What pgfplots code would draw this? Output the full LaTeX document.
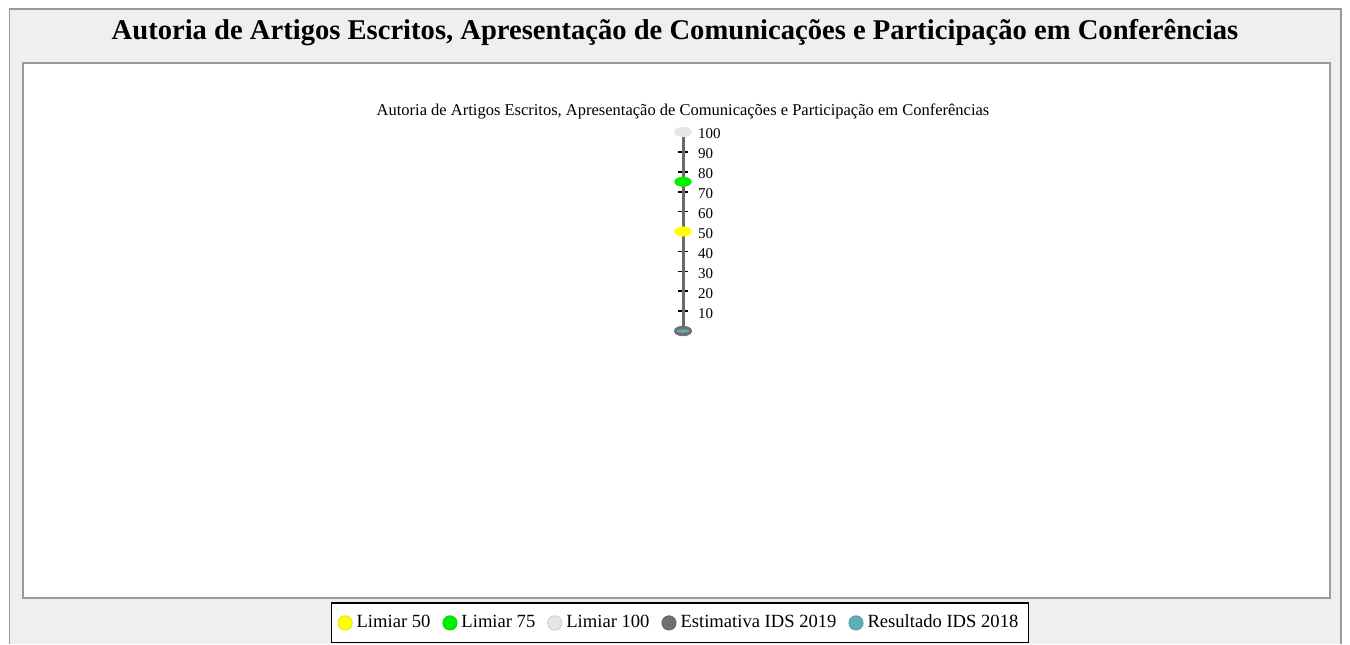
\documentclass[border=0pt]{standalone}
\usepackage{fontspec}
\setmainfont{Liberation Serif}
\usepackage{pgfplots}
\pgfplotsset{compat=1.18}
\definecolor{bgpanel}{HTML}{EFEFEF}
\definecolor{framegray}{HTML}{9A9A9A}
\definecolor{axisgray}{HTML}{6A6A6A}
\definecolor{lim50}{HTML}{FFFF00}
\definecolor{lim75}{HTML}{00EE00}
\definecolor{lim100}{HTML}{E6E6E6}
\definecolor{est19}{HTML}{707070}
\definecolor{res18}{HTML}{5BAFB5}
\pgfplotsset{lg/.style={legend image code/.code={\filldraw[fill=#1,draw=#1!85!black,line width=0.3pt] (0pt,0pt) circle (3.6pt);}}}
\begin{document}
\begin{tikzpicture}
\begin{scope}[x=0.5pt,y=0.5pt]
  \useasboundingbox (0,0) rectangle (1350,644);
  \fill[white] (0,0) rectangle (1350,644);
  \fill[bgpanel] (9.5,0) rectangle (1341,635);
  \draw[framegray, line width=0.6pt] (9.5,0) -- (9.5,635) -- (1341,635) -- (1341,0);
  \filldraw[fill=white, draw=framegray, line width=0.6pt] (23,46) rectangle (1330,581);
  \node[font=\bfseries\fontsize{14.3}{16}\selectfont] at (675,611) {Autoria de Artigos Escritos, Apresentação de Comunicações e Participação em Conferências};
\end{scope}
\begin{axis}[
  scale only axis, width=10pt, height=99.5pt,
  at={(341.5pt,156.5pt)}, anchor=south east,
  xmin=-1, xmax=0, ymin=0, ymax=100,
  axis x line=none, axis y line=right,
  axis line style={-, draw=axisgray, line width=1.5pt},
  ytick={10,20,...,100},
  tick align=center, major tick length=5pt,
  tick style={black, line width=0.8pt},
  yticklabel style={font=\fontsize{7.5}{8}\selectfont, xshift=1.5pt, yshift=-1pt},
  /pgf/number format/assume math mode=true,
  title={Autoria de Artigos Escritos, Apresentação de Comunicações e Participação em Conferências},
  title style={at={(1,1)}, anchor=center, yshift=4.5pt, font=\fontsize{8.25}{9}\selectfont},
  clip=false,
  legend columns=5,
  legend style={at={(0.85,-1.467)}, anchor=center, draw=black, line width=0.6pt,
    font=\fontsize{9.3}{11}\selectfont, inner ysep=4pt,
    nodes={inner xsep=2pt},
    /tikz/every even column/.append style={column sep=4pt}},
]
\addplot[only marks, mark=*, mark size=2.3pt, mark options={xscale=1.8, fill=lim50, draw=lim50}, lg=lim50] coordinates {(0,50)};
\addlegendentry{Limiar 50}
\addplot[only marks, mark=*, mark size=2.3pt, mark options={xscale=1.8, fill=lim75, draw=lim75}, lg=lim75] coordinates {(0,75)};
\addlegendentry{Limiar 75}
\addplot[only marks, mark=*, mark size=2.3pt, mark options={xscale=1.8, fill=lim100, draw=lim100}, lg=lim100] coordinates {(0,100)};
\addlegendentry{Limiar 100}
\addplot[only marks, mark=*, mark size=2.4pt, mark options={xscale=1.8, fill=est19, draw=est19}, lg=est19] coordinates {(0,0)};
\addlegendentry{Estimativa IDS 2019}
\addplot[only marks, mark=*, mark size=2.4pt, mark options={xscale=1.2, yscale=0.25, fill=res18, draw=res18}, lg=res18] coordinates {(0,0)};
\addlegendentry{Resultado IDS 2018}
\end{axis}
\end{tikzpicture}
\end{document}
